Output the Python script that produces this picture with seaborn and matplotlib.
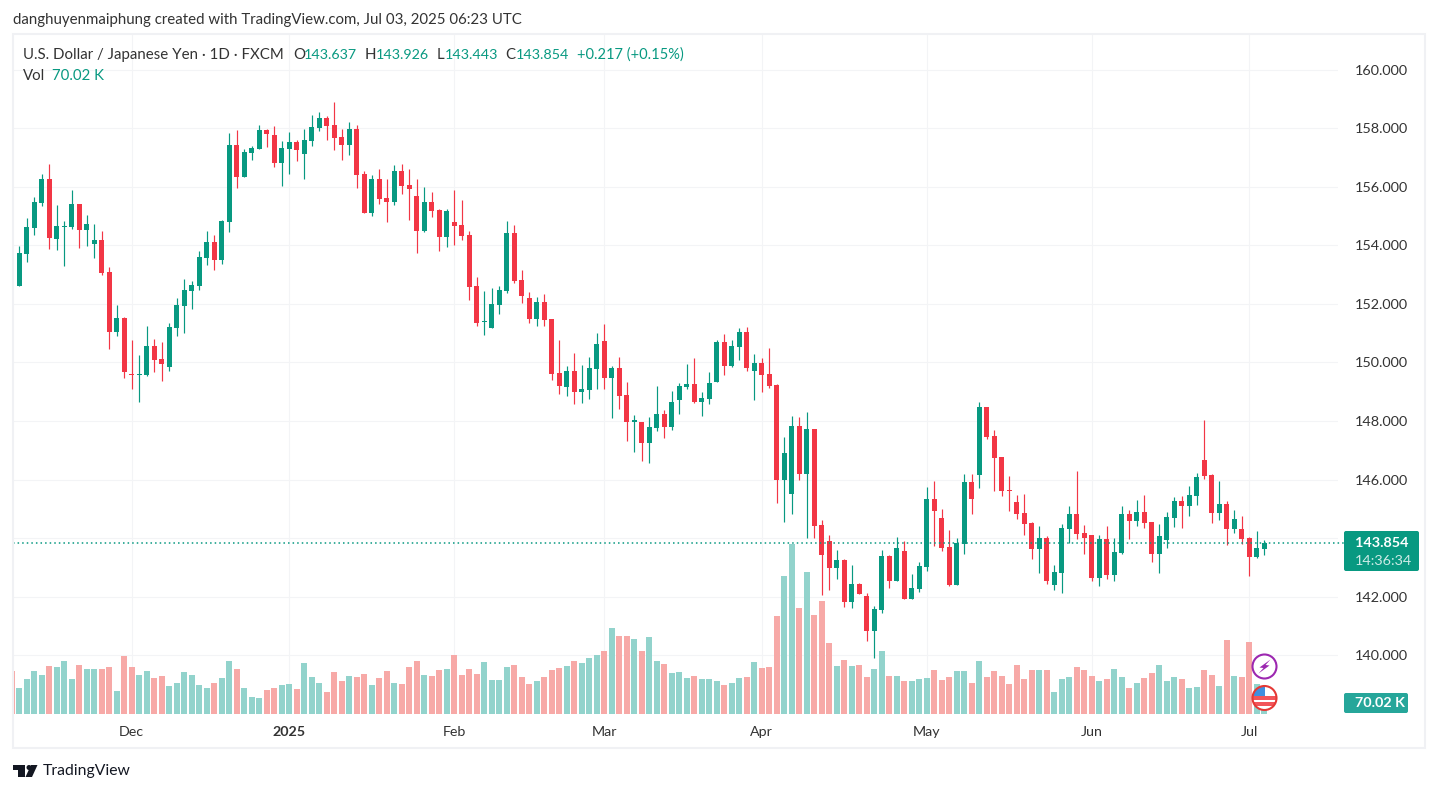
import matplotlib
matplotlib.use('Agg')
import matplotlib.pyplot as plt
from matplotlib.patches import Circle, FancyBboxPatch, Polygon, Rectangle
import numpy as np
import pandas as pd
import seaborn as sns

# daily USD/JPY candles, oldest first
opens = [152.95, 152.61, 153.70, 154.59, 155.44, 156.26, 154.21, 154.62, 154.62, 155.41, 154.52, 154.04,
         154.18, 153.09, 151.04, 151.52, 149.61, 149.57, 149.57, 150.56, 150.12, 149.85, 151.18, 151.93,
         152.44, 152.61, 153.57, 154.11, 153.50, 154.79, 157.42, 156.33, 157.15, 157.29, 157.93, 157.76,
         156.81, 157.29, 157.53, 157.12, 157.56, 158.00, 158.34, 158.11, 157.70, 157.42, 157.97, 156.43,
         155.10, 156.26, 155.61, 155.48, 156.54, 156.06, 155.68, 154.49, 155.48, 155.20, 154.28, 154.79,
         154.69, 154.35, 152.61, 151.38, 151.18, 151.96, 152.44, 154.42, 152.81, 152.20, 151.48, 152.06,
         151.48, 149.64, 149.16, 149.71, 148.99, 149.06, 149.78, 150.73, 149.47, 149.81, 148.89, 147.97,
         147.97, 147.25, 147.76, 148.24, 147.80, 148.72, 149.16, 149.27, 148.65, 148.75, 149.33, 150.70,
         149.88, 150.53, 151.04, 149.71, 149.98, 149.61, 149.23, 145.99, 145.51, 147.83, 146.19, 147.73,
         144.45, 143.91, 142.99, 143.26, 141.83, 142.44, 142.03, 140.84, 141.55, 143.40, 142.54, 143.57,
         141.93, 142.27, 143.02, 145.34, 144.69, 143.70, 142.41, 143.80, 145.92, 146.16, 148.48, 147.49,
         146.77, 145.65, 145.24, 144.86, 144.52, 143.63, 144.01, 142.40, 142.81, 144.32, 144.83, 144.18,
         144.11, 142.64, 143.97, 142.75, 143.50, 144.83, 144.59, 144.90, 144.55, 143.46, 143.94, 144.69,
         145.27, 145.10, 145.44, 146.67, 146.16, 144.86, 145.17, 144.32, 144.32, 144.01, 143.36, 143.637]
highs = [152.95, 153.98, 154.93, 155.65, 156.43, 156.77, 155.37, 154.83, 155.89, 155.41, 155.03, 154.73,
         154.49, 153.26, 151.96, 151.55, 150.77, 150.26, 151.25, 150.80, 150.70, 151.35, 152.20, 152.85,
         152.78, 153.80, 154.49, 154.35, 154.86, 157.83, 157.93, 157.29, 157.39, 158.11, 157.97, 158.07,
         157.56, 157.87, 157.59, 157.97, 158.45, 158.55, 158.41, 158.89, 157.97, 158.21, 158.11, 156.54,
         156.40, 156.60, 156.26, 156.74, 156.77, 156.60, 156.26, 155.99, 155.82, 155.24, 155.24, 155.89,
         155.55, 154.49, 152.92, 152.44, 152.54, 152.61, 154.83, 154.69, 153.16, 152.41, 152.23, 152.34,
         151.48, 150.77, 149.88, 150.32, 149.91, 150.19, 151.01, 151.31, 149.88, 150.19, 149.33, 148.21,
         147.97, 148.14, 149.20, 148.38, 149.03, 149.30, 149.95, 150.15, 148.99, 149.68, 150.77, 150.97,
         150.77, 151.18, 151.21, 150.29, 150.15, 150.49, 149.27, 147.46, 148.17, 148.14, 148.31, 147.73,
         144.62, 144.11, 143.60, 143.29, 143.09, 142.47, 142.13, 141.69, 143.60, 143.43, 144.04, 143.91,
         142.78, 143.19, 145.75, 145.95, 145.00, 144.28, 144.01, 146.19, 146.19, 148.65, 148.48, 147.69,
         146.77, 146.12, 145.48, 145.51, 144.55, 144.42, 144.08, 143.09, 144.49, 145.10, 146.30, 144.45,
         144.11, 144.11, 144.42, 144.01, 145.10, 144.96, 145.31, 145.48, 144.55, 144.49, 144.90, 145.41,
         145.44, 145.78, 146.23, 148.04, 146.19, 145.95, 145.27, 144.96, 144.76, 144.04, 144.25, 143.926]
lows = [152.55, 152.61, 153.43, 154.35, 155.34, 153.87, 153.84, 153.29, 154.56, 153.91, 153.98, 153.57,
        152.99, 150.46, 150.90, 149.47, 149.09, 148.65, 149.54, 149.68, 149.37, 149.71, 150.90, 151.01,
        151.83, 152.47, 153.33, 153.16, 153.36, 154.45, 155.96, 156.33, 156.91, 157.29, 157.35, 156.67,
        156.02, 156.43, 156.88, 156.26, 157.39, 157.90, 157.59, 157.25, 156.91, 157.08, 155.96, 155.10,
        155.00, 155.41, 154.79, 155.37, 155.75, 154.86, 153.74, 154.45, 154.97, 153.80, 153.94, 154.01,
        154.18, 152.13, 151.25, 150.94, 151.18, 151.65, 152.37, 152.71, 152.03, 151.35, 151.25, 151.25,
        149.40, 148.92, 148.86, 148.58, 148.62, 148.75, 149.09, 149.09, 148.11, 148.41, 147.32, 146.94,
        146.64, 146.57, 147.66, 147.42, 147.70, 148.24, 149.09, 148.62, 148.17, 148.58, 149.33, 149.57,
        149.85, 150.08, 149.71, 148.72, 148.99, 149.13, 145.20, 144.56, 144.83, 145.99, 144.01, 144.01,
        142.06, 142.23, 142.61, 141.65, 141.62, 142.10, 140.49, 139.91, 141.45, 142.30, 142.54, 141.93,
        141.93, 142.17, 142.88, 143.74, 143.57, 142.37, 142.41, 143.46, 144.83, 145.72, 147.39, 145.61,
        145.44, 144.93, 144.66, 144.11, 143.29, 142.81, 142.44, 142.23, 142.13, 143.84, 143.97, 143.46,
        142.54, 142.37, 142.61, 142.54, 143.46, 143.97, 144.42, 144.35, 143.19, 142.81, 143.67, 144.38,
        144.35, 144.76, 145.13, 146.02, 144.52, 144.62, 143.77, 144.18, 143.80, 142.71, 143.33, 143.443]
closes = [152.55, 153.74, 154.62, 155.48, 156.26, 154.25, 154.66, 154.66, 155.41, 154.52, 154.73, 154.18,
          153.05, 151.04, 151.52, 149.68, 149.57, 149.61, 150.56, 150.08, 149.95, 151.21, 151.96, 152.47,
          152.64, 153.60, 154.11, 153.50, 154.83, 157.42, 156.33, 157.18, 157.32, 157.93, 157.80, 156.81,
          157.32, 157.53, 157.25, 157.59, 158.04, 158.34, 158.07, 157.66, 157.42, 157.97, 156.40, 155.10,
          156.26, 155.58, 155.48, 156.54, 156.02, 155.92, 154.49, 155.48, 155.17, 154.28, 155.17, 154.66,
          154.32, 152.58, 151.35, 151.42, 152.00, 152.47, 154.42, 152.78, 152.27, 151.48, 152.06, 151.45,
          149.61, 149.20, 149.71, 148.99, 149.09, 149.81, 150.63, 149.47, 149.81, 148.86, 147.97, 148.04,
          147.25, 147.80, 148.24, 147.80, 148.65, 149.20, 149.27, 148.65, 148.79, 149.30, 150.70, 149.88,
          150.56, 151.04, 149.81, 149.98, 149.57, 149.20, 145.99, 146.91, 147.83, 146.19, 147.73, 144.42,
          143.43, 142.99, 143.26, 141.83, 142.44, 142.10, 140.84, 141.59, 143.40, 142.54, 143.67, 141.93,
          142.30, 143.05, 145.34, 144.93, 143.67, 142.41, 143.84, 145.92, 145.34, 148.48, 147.46, 146.74,
          145.61, 145.61, 144.83, 144.49, 143.63, 144.01, 142.54, 142.85, 144.35, 144.83, 144.15, 144.01,
          142.64, 143.97, 142.75, 143.53, 144.83, 144.59, 144.90, 144.52, 143.46, 144.08, 144.73, 145.27,
          145.10, 145.48, 146.09, 146.12, 144.86, 145.17, 144.32, 144.66, 143.97, 143.36, 143.67, 143.854]
# volume in thousands
volumes = [283, 171, 230, 283, 256, 315, 309, 348, 230, 322, 296, 296, 296, 309, 151, 381, 309, 256, 283, 237,
           250, 184, 204, 276, 256, 191, 171, 204, 237, 348, 296, 171, 112, 105, 158, 171, 191, 197, 164, 335,
           243, 204, 145, 276, 217, 250, 243, 263, 191, 237, 283, 204, 197, 309, 348, 256, 250, 289, 296, 388,
           256, 296, 263, 342, 223, 223, 309, 322, 243, 197, 217, 243, 289, 302, 315, 348, 335, 368, 388, 414,
           565, 512, 512, 493, 414, 506, 348, 329, 269, 276, 237, 250, 230, 230, 217, 191, 204, 237, 243, 342,
           302, 309, 644, 907, 1117, 696, 933, 650, 742, 466, 315, 355, 315, 322, 243, 296, 414, 250, 250, 217,
           217, 230, 237, 289, 223, 243, 283, 283, 204, 348, 243, 283, 250, 197, 322, 230, 289, 289, 289, 145,
           230, 243, 309, 289, 250, 217, 230, 296, 243, 171, 204, 237, 269, 322, 217, 243, 230, 171, 177, 289,
           256, 184, 486, 250, 243, 473, 197, 70.02]

# bar index of each month label
month_idx = [16, 37, 59, 79, 100, 122, 144, 165]
month_labels = ['Dec', '2025', 'Feb', 'Mar', 'Apr', 'May', 'Jun', 'Jul']
price_ticks = [140, 142, 144, 146, 148, 150, 152, 154, 156, 158, 160]
last_price = 143.854

UP = '#089981'
DOWN = '#F23645'
VOL_UP = '#92D3CC'
VOL_DOWN = '#F7A9A7'
GRID = '#F3F4F6'
TEXT = '#333333'
FS = 10.8

W, H = 1438, 793
sns.set_theme(style='white')
plt.rcParams['font.family'] = ['Lato', 'DejaVu Sans']

fig = plt.figure(figsize=(W / 100, H / 100), dpi=100, facecolor='white')
rect = [13 / W, 1 - 714 / H, (1338 - 13) / W, (714 - 35) / H]

idx = np.arange(len(closes))
o = np.array(opens)
c = np.array(closes)
up = c >= o

# bottom layer carries the grid and the axis labels
ax = fig.add_axes(rect)
ax_vol = ax.twinx()
ax_price = ax.twinx()
for a in (ax, ax_vol, ax_price):
    a.set_xlim(0.16, 176.83)
    sns.despine(ax=a, left=True, bottom=True, right=True, top=True)
ax.set_ylim(138.0, 161.18)
ax_price.set_ylim(138.0, 161.18)

ax.set_xticks(month_idx, month_labels)
ax.yaxis.tick_right()
# the 144 label sits behind the last price tag
ax.set_yticks(price_ticks, ['' if p == 144 else f'{p:.3f}' for p in price_ticks])
ax.tick_params(axis='x', length=0, pad=9, labelsize=10.3, labelcolor=TEXT)
ax.tick_params(axis='y', length=0, pad=12, labelsize=10.4, labelcolor=TEXT)
ax.get_xticklabels()[1].set_fontweight('bold')
ax.grid(True, color=GRID, linewidth=0.75)

# volume overlay
vol_df = pd.DataFrame({'idx': idx, 'vol': volumes, 'dir': np.where(up, 'up', 'down')})
sns.barplot(data=vol_df, x='idx', y='vol', hue='dir', palette={'up': VOL_UP, 'down': VOL_DOWN},
            native_scale=True, width=0.85, dodge=False, legend=False, saturation=1, linewidth=0, ax=ax_vol)
ax_vol.set_xlim(0.16, 176.83)
ax_vol.set_ylim(0, 4457)
ax_vol.set_xlabel('')
ax_vol.set_ylabel('')
ax_vol.set_yticks([])
ax_vol.patch.set_visible(False)

# candles
colors = np.where(up, UP, DOWN)
ax_price.vlines(idx, lows, highs, colors=colors, linewidth=0.85)
ax_price.bar(idx, np.maximum(np.abs(c - o), 0.03), bottom=np.minimum(o, c), width=0.68, color=colors, linewidth=0)
ax_price.axhline(last_price, xmax=1.0045, color=UP, linestyle=(0, (1, 2)), linewidth=1.1, clip_on=False)
ax_price.set_yticks([])
ax_price.patch.set_visible(False)
ax_price.tick_params(axis='x', length=0, labelbottom=False)

# page furniture in pixel coordinates
page = fig.add_axes([0, 0, 1, 1], zorder=5)
page.set_xlim(0, W)
page.set_ylim(H, 0)
page.axis('off')
page.patch.set_visible(False)
page.add_patch(Rectangle((13, 34), 1412, 714, fill=False, edgecolor='#F0F1F4', linewidth=1.5))

page.text(13, 20, 'danghuyenmaiphung created with TradingView.com, Jul 03, 2025 06:23 UTC',
          fontsize=FS, color=TEXT, va='center')
page.text(23, 55, 'U.S. Dollar / Japanese Yen · 1D · FXCM', fontsize=FS, color=TEXT, va='center')
for x, letter, x_val, value in [(293, 'O', 304, '143.637'), (365, 'H', 376, '143.926'),
                                (437, 'L', 445, '143.443'), (505, 'C', 516, '143.854')]:
    page.text(x, 55, letter, fontsize=FS, color=TEXT, va='center')
    page.text(x_val, 55, value, fontsize=10.3, color=UP, va='center')
page.text(577, 55, '+0.217 (+0.15%)', fontsize=10.5, color=UP, va='center')
page.text(23, 76, 'Vol', fontsize=FS, color=TEXT, va='center')
page.text(52, 76, '70.02 K', fontsize=FS, color=UP, va='center')

page.add_patch(FancyBboxPatch((1345, 532), 73, 38, boxstyle='round,pad=1,rounding_size=2', facecolor=UP, edgecolor='none'))
page.text(1355, 543, '143.854', fontsize=10.4, color='white', va='center', fontweight='bold')
page.text(1355, 561, '14:36:34', fontsize=10.4, color='#CDEBE6', va='center')
page.add_patch(FancyBboxPatch((1345, 694), 62, 18, boxstyle='round,pad=1,rounding_size=2', facecolor='#26A69A', edgecolor='none'))
page.text(1355, 703, '70.02 K', fontsize=10.4, color='white', va='center', fontweight='bold')

# lightning badge
page.add_patch(Circle((1264.5, 666.5), 12, facecolor='white', edgecolor='#9C27B0', linewidth=1.5))
page.add_patch(Polygon([(1270.5, 659.5), (1259.5, 667.5), (1263.5, 668), (1258.5, 673.5), (1269.5, 665.5), (1265.5, 665)],
                       facecolor='#9C27B0', edgecolor='none'))
# US flag badge
flag = Circle((1264.5, 698), 12, facecolor='white', edgecolor='none')
page.add_patch(flag)
for y0, h0 in [(696, 4), (702, 3.5)]:
    s = page.add_patch(Rectangle((1252, y0), 25, h0, facecolor='#F2555A', edgecolor='none'))
    s.set_clip_path(flag)
s = page.add_patch(Rectangle((1252, 686), 13, 10, facecolor='#3F8FE0', edgecolor='none'))
s.set_clip_path(flag)
page.add_patch(Circle((1264.5, 698), 12, fill=False, edgecolor='#E53935', linewidth=1.5))

# TradingView mark
page.add_patch(Polygon([(13, 765), (25, 765), (25, 777), (18, 777), (18, 770), (13, 770)], facecolor='#131722', edgecolor='none'))
page.add_patch(Circle((29, 767.5), 2.5, facecolor='#131722', edgecolor='none'))
page.add_patch(Polygon([(31, 765), (37.5, 765), (32, 777), (25.5, 777)], facecolor='#131722', edgecolor='none'))
page.text(43, 771.5, 'TradingView', fontsize=11.3, color='#131722', va='center')

fig.savefig('out.png', dpi=100)
